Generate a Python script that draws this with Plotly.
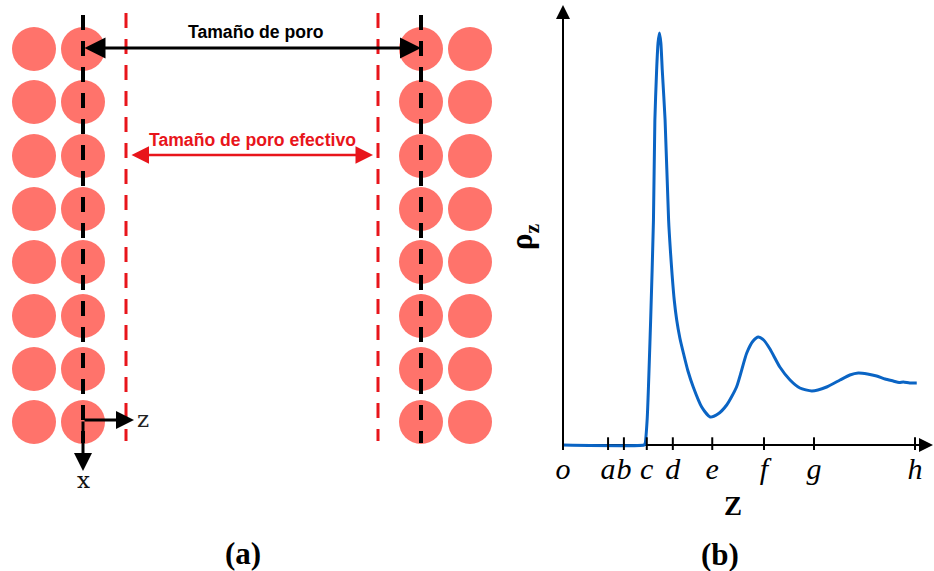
import plotly.graph_objects as go

# ---------------- Panel (b): density profile data ----------------
z_vals = [0, 2.30, 2.33, 2.39, 2.49, 2.57, 2.61, 2.66, 2.70, 2.74, 2.78, 2.82, 2.90, 3.00,
          3.05, 3.10, 3.16, 3.23, 3.32, 3.42, 3.55, 3.70, 3.94, 4.18, 4.40, 4.65, 4.93,
          5.22, 5.40, 5.55, 5.70, 5.88, 6.16, 6.45, 6.73, 7.07, 7.49, 7.87, 8.15, 8.39,
          8.65, 8.91, 9.15, 9.38, 9.55, 9.67, 9.85, 10.05]
rho_vals = [0, 0, 0.01, 0.25, 1.25, 2.25, 3.25, 3.75, 4.02, 4.12, 4.02, 3.75, 3.25, 2.25,
            1.95, 1.70, 1.45, 1.25, 1.07, 0.92, 0.74, 0.58, 0.38, 0.28, 0.31, 0.40, 0.58,
            0.92, 1.04, 1.08, 1.05, 0.96, 0.78, 0.65, 0.57, 0.54, 0.58, 0.65, 0.70, 0.72,
            0.71, 0.69, 0.66, 0.64, 0.625, 0.63, 0.62, 0.62]
tick_pos = [0, 1.28, 1.73, 2.38, 3.12, 4.24, 5.71, 7.13, 10.0]
tick_lbl = ["o", "a", "b", "c", "d", "e", "f", "g", "h"]

# ---------------- Panel (a): schematic pore walls ----------------
wall_cols = [34, 83, 421, 470]
atom_rows = [49, 102, 156, 209, 262, 316, 369, 422]
center_planes = [83, 421]
effective_planes = [126, 378]

W, H = 934, 571
PX_Z = 35.2     # px per z unit
PX_R = 100.0    # px per rho unit
ORIGIN_X, ORIGIN_Y = 563, 445

fig = go.Figure()

# atoms
xs = [c for c in wall_cols for r in atom_rows]
ys = [r for c in wall_cols for r in atom_rows]
fig.add_trace(go.Scatter(x=xs, y=ys, mode="markers",
                         marker=dict(size=44, color="#ff736b", line=dict(width=0)),
                         xaxis="x", yaxis="y", hoverinfo="skip", showlegend=False))

shapes = []
for xc in center_planes:
    shapes.append(dict(type="line", xref="x", yref="y", x0=xc, x1=xc, y0=15, y1=443,
                       line=dict(color="black", width=4, dash="15px,11px"), layer="above"))
for xc in effective_planes:
    shapes.append(dict(type="line", xref="x", yref="y", x0=xc, x1=xc, y0=13, y1=441,
                       line=dict(color="#e8151b", width=3, dash="15px,11px"), layer="above"))

# panel (b) axis lines
z_tip = (933 - ORIGIN_X) / PX_Z
r_tip = (ORIGIN_Y - 5) / PX_R
shapes.append(dict(type="line", xref="x2", yref="y2", x0=0, x1=z_tip - 0.2, y0=0, y1=0,
                   line=dict(color="black", width=2), layer="below"))
shapes.append(dict(type="line", xref="x2", yref="y2", x0=0, x1=0, y0=0, y1=r_tip - 0.05,
                   line=dict(color="black", width=2), layer="below"))

# density curve
fig.add_trace(go.Scatter(x=z_vals, y=rho_vals, mode="lines",
                         line=dict(color="#0a64c4", width=3, shape="spline", smoothing=0.6),
                         xaxis="x2", yaxis="y2", hoverinfo="skip", showlegend=False))
# tick marks crossing the axis
fig.add_trace(go.Scatter(x=tick_pos, y=[0] * len(tick_pos), mode="markers",
                         marker=dict(symbol="line-ns-open", size=11, color="black",
                                     line=dict(width=2, color="black")),
                         xaxis="x2", yaxis="y2", hoverinfo="skip", showlegend=False))

ann = []
# pore size arrows
ann.append(dict(x=421, y=48, ax=83, ay=48, xref="x", yref="y", axref="x", ayref="y",
                showarrow=True, arrowhead=2, startarrowhead=2, arrowside="end+start",
                arrowwidth=3, arrowsize=1.4, startarrowsize=1.4, arrowcolor="black", text=""))
ann.append(dict(x=373, y=155, ax=130, ay=155, xref="x", yref="y", axref="x", ayref="y",
                showarrow=True, arrowhead=2, startarrowhead=2, arrowside="end+start",
                arrowwidth=2.5, arrowsize=1.4, startarrowsize=1.4, arrowcolor="#e8151b", text=""))
# coordinate system
ann.append(dict(x=134, y=420, ax=83, ay=420, xref="x", yref="y", axref="x", ayref="y",
                showarrow=True, arrowhead=2, arrowwidth=3, arrowsize=1.2,
                arrowcolor="black", text=""))
ann.append(dict(x=83, y=471, ax=83, ay=420, xref="x", yref="y", axref="x", ayref="y",
                showarrow=True, arrowhead=2, arrowwidth=3, arrowsize=1.2,
                arrowcolor="black", text=""))
ann.append(dict(x=143, y=419, xref="x", yref="y", text="z", showarrow=False,
                font=dict(family="DejaVu Serif", size=23, color="#222")))
ann.append(dict(x=83, y=480, xref="x", yref="y", text="x", showarrow=False,
                font=dict(family="DejaVu Serif", size=23, color="#111")))
# texts
ann.append(dict(x=256, y=32, xref="x", yref="y", text="<b>Tamaño de poro</b>", showarrow=False,
                font=dict(family="Liberation Sans", size=17.6, color="black")))
ann.append(dict(x=252, y=140, xref="x", yref="y", text="<b>Tamaño de poro efectivo</b>",
                showarrow=False, font=dict(family="Liberation Sans", size=17.6, color="#e8151b")))
ann.append(dict(x=243, y=553, xref="x", yref="y", text="<b>(a)</b>", showarrow=False,
                font=dict(family="Liberation Serif", size=31, color="black")))
ann.append(dict(x=720, y=554, xref="x", yref="y", text="<b>(b)</b>", showarrow=False,
                font=dict(family="Liberation Serif", size=31, color="black")))
# panel (b) axis arrowheads
ann.append(dict(x=z_tip, y=0, ax=z_tip - 0.5, ay=0, xref="x2", yref="y2", axref="x2", ayref="y2",
                showarrow=True, arrowhead=2, arrowwidth=2, arrowsize=1.4, arrowcolor="black", text=""))
ann.append(dict(x=0, y=r_tip, ax=0, ay=r_tip - 0.4, xref="x2", yref="y2", axref="x2", ayref="y2",
                showarrow=True, arrowhead=2, arrowwidth=2, arrowsize=1.4, arrowcolor="black", text=""))
ann.append(dict(x=733, y=506, xref="x", yref="y", text="<b>Z</b>", showarrow=False,
                font=dict(family="Liberation Serif", size=27, color="black")))
ann.append(dict(x=524, y=237, xref="x", yref="y", text="<b>ρ<sub>z</sub></b>", showarrow=False,
                textangle=-90, font=dict(family="Liberation Serif", size=31, color="black")))

x2_left_px = 553
y2_bottom_px = 450
fig.update_layout(
    width=W, height=H, margin=dict(l=0, r=0, t=0, b=0, autoexpand=False),
    paper_bgcolor="white", plot_bgcolor="rgba(0,0,0,0)", showlegend=False,
    xaxis=dict(domain=[0, 1], range=[0, W], visible=False, fixedrange=True, automargin=False),
    yaxis=dict(domain=[0, 1], range=[H, 0], visible=False, fixedrange=True, automargin=False),
    xaxis2=dict(domain=[x2_left_px / W, 1], anchor="y2", automargin=False,
                range=[(x2_left_px - ORIGIN_X) / PX_Z, (W - ORIGIN_X) / PX_Z],
                showgrid=False, zeroline=False, showline=False, ticks="", tickangle=0,
                tickvals=tick_pos, ticktext=tick_lbl, ticklabelstandoff=-2,
                tickfont=dict(family="Liberation Serif", size=30, color="black", style="italic")),
    yaxis2=dict(domain=[(H - y2_bottom_px) / H, 1], anchor="x2", automargin=False,
                range=[-(y2_bottom_px - ORIGIN_Y) / PX_R, ORIGIN_Y / PX_R],
                showgrid=False, zeroline=False, showline=False, showticklabels=False, ticks=""),
    shapes=shapes, annotations=ann,
)

fig.write_html("out.html")
